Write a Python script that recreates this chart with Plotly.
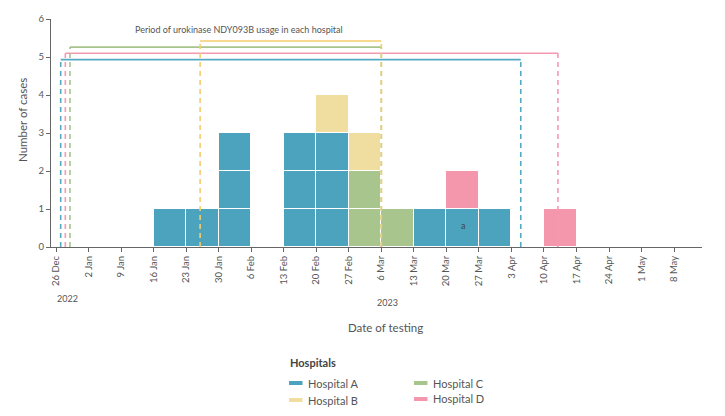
import plotly.graph_objects as go
from datetime import datetime, timedelta

# ---- data ----
week_starts = ["2023-01-16", "2023-01-23", "2023-01-30", "2023-02-13", "2023-02-20",
               "2023-02-27", "2023-03-06", "2023-03-13", "2023-03-20", "2023-03-27",
               "2023-04-10"]
hospital_a = [1, 1, 3, 3, 3, 0, 0, 1, 1, 1, 0]
hospital_b = [0, 0, 0, 0, 1, 1, 0, 0, 0, 0, 0]
hospital_c = [0, 0, 0, 0, 0, 2, 1, 0, 0, 0, 0]
hospital_d = [0, 0, 0, 0, 0, 0, 0, 0, 1, 0, 1]

hospital_names = ["Hospital A", "Hospital C", "Hospital B", "Hospital D"]
hospital_counts = [hospital_a, hospital_c, hospital_b, hospital_d]

period_names = ["Hospital A", "Hospital D", "Hospital C", "Hospital B"]
period_start = ["2022-12-27", "2022-12-28", "2022-12-29", "2023-01-26"]
period_end = ["2023-04-05", "2023-04-13", "2023-03-06", "2023-03-06"]
period_level = [4.93, 5.1, 5.26, 5.42]

tick_dates = ["2022-12-26", "2023-01-02", "2023-01-09", "2023-01-16", "2023-01-23",
              "2023-01-30", "2023-02-06", "2023-02-13", "2023-02-20", "2023-02-27",
              "2023-03-06", "2023-03-13", "2023-03-20", "2023-03-27", "2023-04-03",
              "2023-04-10", "2023-04-17", "2023-04-24", "2023-05-01", "2023-05-08"]
tick_labels = ["26 Dec", "2 Jan", "9 Jan", "16 Jan", "23 Jan", "30 Jan", "6 Feb",
               "13 Feb", "20 Feb", "27 Feb", "6 Mar", "13 Mar", "20 Mar", "27 Mar",
               "3 Apr", "10 Apr", "17 Apr", "24 Apr", "1 May", "8 May"]

# ---- styles ----
bar_colors = {"Hospital A": "#4BA3BD", "Hospital B": "#F0DEA0",
              "Hospital C": "#A8C58E", "Hospital D": "#F496AC"}
line_colors = {"Hospital A": "#55A9C3", "Hospital B": "#F5CC6A",
               "Hospital C": "#A6C48C", "Hospital D": "#F49AB0"}
FONT = "Lato"
TXT = "#555555"
W, H = 725, 416
L, R, T, B = 51, 23, 19, 169
PW, PH = W - L - R, H - T - B

fig = go.Figure()
WEEK_MS = 7 * 86400000

for name, counts in zip(hospital_names, hospital_counts):
    xs, ys = [], []
    for ws, c in zip(week_starts, counts):
        mid = datetime.strptime(ws, "%Y-%m-%d") + timedelta(days=3.5)
        for _ in range(c):
            xs.append(mid)
            ys.append(1)
    fig.add_trace(go.Bar(
        x=xs, y=ys, width=[WEEK_MS] * len(xs), name=name,
        marker=dict(color=bar_colors[name], line=dict(color="white", width=1.5)),
        showlegend=False, hoverinfo="skip"))

for name, s, e, lvl in zip(period_names, period_start, period_end, period_level):
    col = line_colors[name]
    fig.add_shape(type="line", xref="x", yref="y", x0=s, x1=e, y0=lvl, y1=lvl,
                  line=dict(color=col, width=1.6))
    for xx in (s, e):
        fig.add_shape(type="line", xref="x", yref="y", x0=xx, x1=xx, y0=0, y1=lvl,
                      line=dict(color=col, width=1.6, dash="5px,4px"))


def px2paper(px, py):
    return (px - L) / PW, (H - B - py) / PH


annotations = []
leg_items = [("Hospital A", 289, 383), ("Hospital B", 289, 400),
             ("Hospital C", 414, 383), ("Hospital D", 414, 399)]
for name, px, py in leg_items:
    x0, y0 = px2paper(px, py + 2)
    x1, y1 = px2paper(px + 13.5, py - 2)
    fig.add_shape(type="rect", xref="paper", yref="paper", x0=x0, x1=x1, y0=y0, y1=y1,
                  line=dict(width=0), fillcolor=bar_colors[name])
    tx, ty = px2paper(px + 17, py)
    annotations.append(dict(text=name, xref="paper", yref="paper", x=tx, y=ty,
                            xanchor="left", yanchor="middle", showarrow=False,
                            font=dict(family=FONT, size=11, color=TXT)))

hx, hy = px2paper(288, 362)
annotations.append(dict(text="<b>Hospitals</b>", xref="paper", yref="paper", x=hx, y=hy,
                        xanchor="left", yanchor="middle", showarrow=False,
                        font=dict(family=FONT, size=11, color="#444444")))

tx, ty = px2paper(239, 29)
annotations.append(dict(text="Period of urokinase NDY093B usage in each hospital",
                        xref="paper", yref="paper", x=tx, y=ty, xanchor="center",
                        yanchor="middle", showarrow=False,
                        font=dict(family=FONT, size=9, color=TXT)))

for yr, px, py in [("2022", 67, 298), ("2023", 387, 302)]:
    ax_, ay_ = px2paper(px, py)
    annotations.append(dict(text=yr, xref="paper", yref="paper", x=ax_, y=ay_,
                            xanchor="center", yanchor="middle", showarrow=False,
                            font=dict(family=FONT, size=9, color=TXT)))

dx, dy = px2paper(386, 327)
annotations.append(dict(text="Date of testing", xref="paper", yref="paper", x=dx, y=dy,
                        xanchor="center", yanchor="middle", showarrow=False,
                        font=dict(family=FONT, size=11.5, color=TXT)))

nx, ny = px2paper(22, 120)
annotations.append(dict(text="Number of cases", xref="paper", yref="paper", x=nx, y=ny,
                        xanchor="center", yanchor="middle", showarrow=False, textangle=-90,
                        font=dict(family=FONT, size=11.5, color=TXT)))

annotations.append(dict(text="a", xref="x", yref="y",
                        x=datetime(2023, 3, 20) + timedelta(days=3.5), y=0.56,
                        showarrow=False, font=dict(family=FONT, size=9, color="#444444")))

fig.update_layout(
    width=W, height=H,
    margin=dict(l=L, r=R, t=T, b=B, pad=0, autoexpand=False),
    paper_bgcolor="white", plot_bgcolor="white",
    barmode="stack", bargap=0,
    font=dict(family=FONT, size=9, color=TXT),
    annotations=annotations,
    xaxis=dict(type="date", range=["2022-12-24 22:00", "2023-05-14"],
               tickvals=tick_dates, ticktext=tick_labels, tickangle=-90,
               automargin=False,
               showgrid=False, zeroline=False, showline=True, linecolor="#666666",
               linewidth=1.2, ticks="outside", ticklen=4, tickcolor="#666666",
               tickfont=dict(family=FONT, size=9.5, color=TXT)),
    yaxis=dict(range=[0, 6], tickvals=[0, 1, 2, 3, 4, 5, 6], showgrid=False,
               automargin=False,
               zeroline=False, showline=True, linecolor="#666666", linewidth=1.2,
               ticks="outside", ticklen=4, tickcolor="#666666",
               tickfont=dict(family=FONT, size=9.5, color=TXT)),
)

fig.write_html("out.html", config={"displayModeBar": False},
               post_script="document.body.style.margin='0px';document.body.style.overflow='hidden';")
